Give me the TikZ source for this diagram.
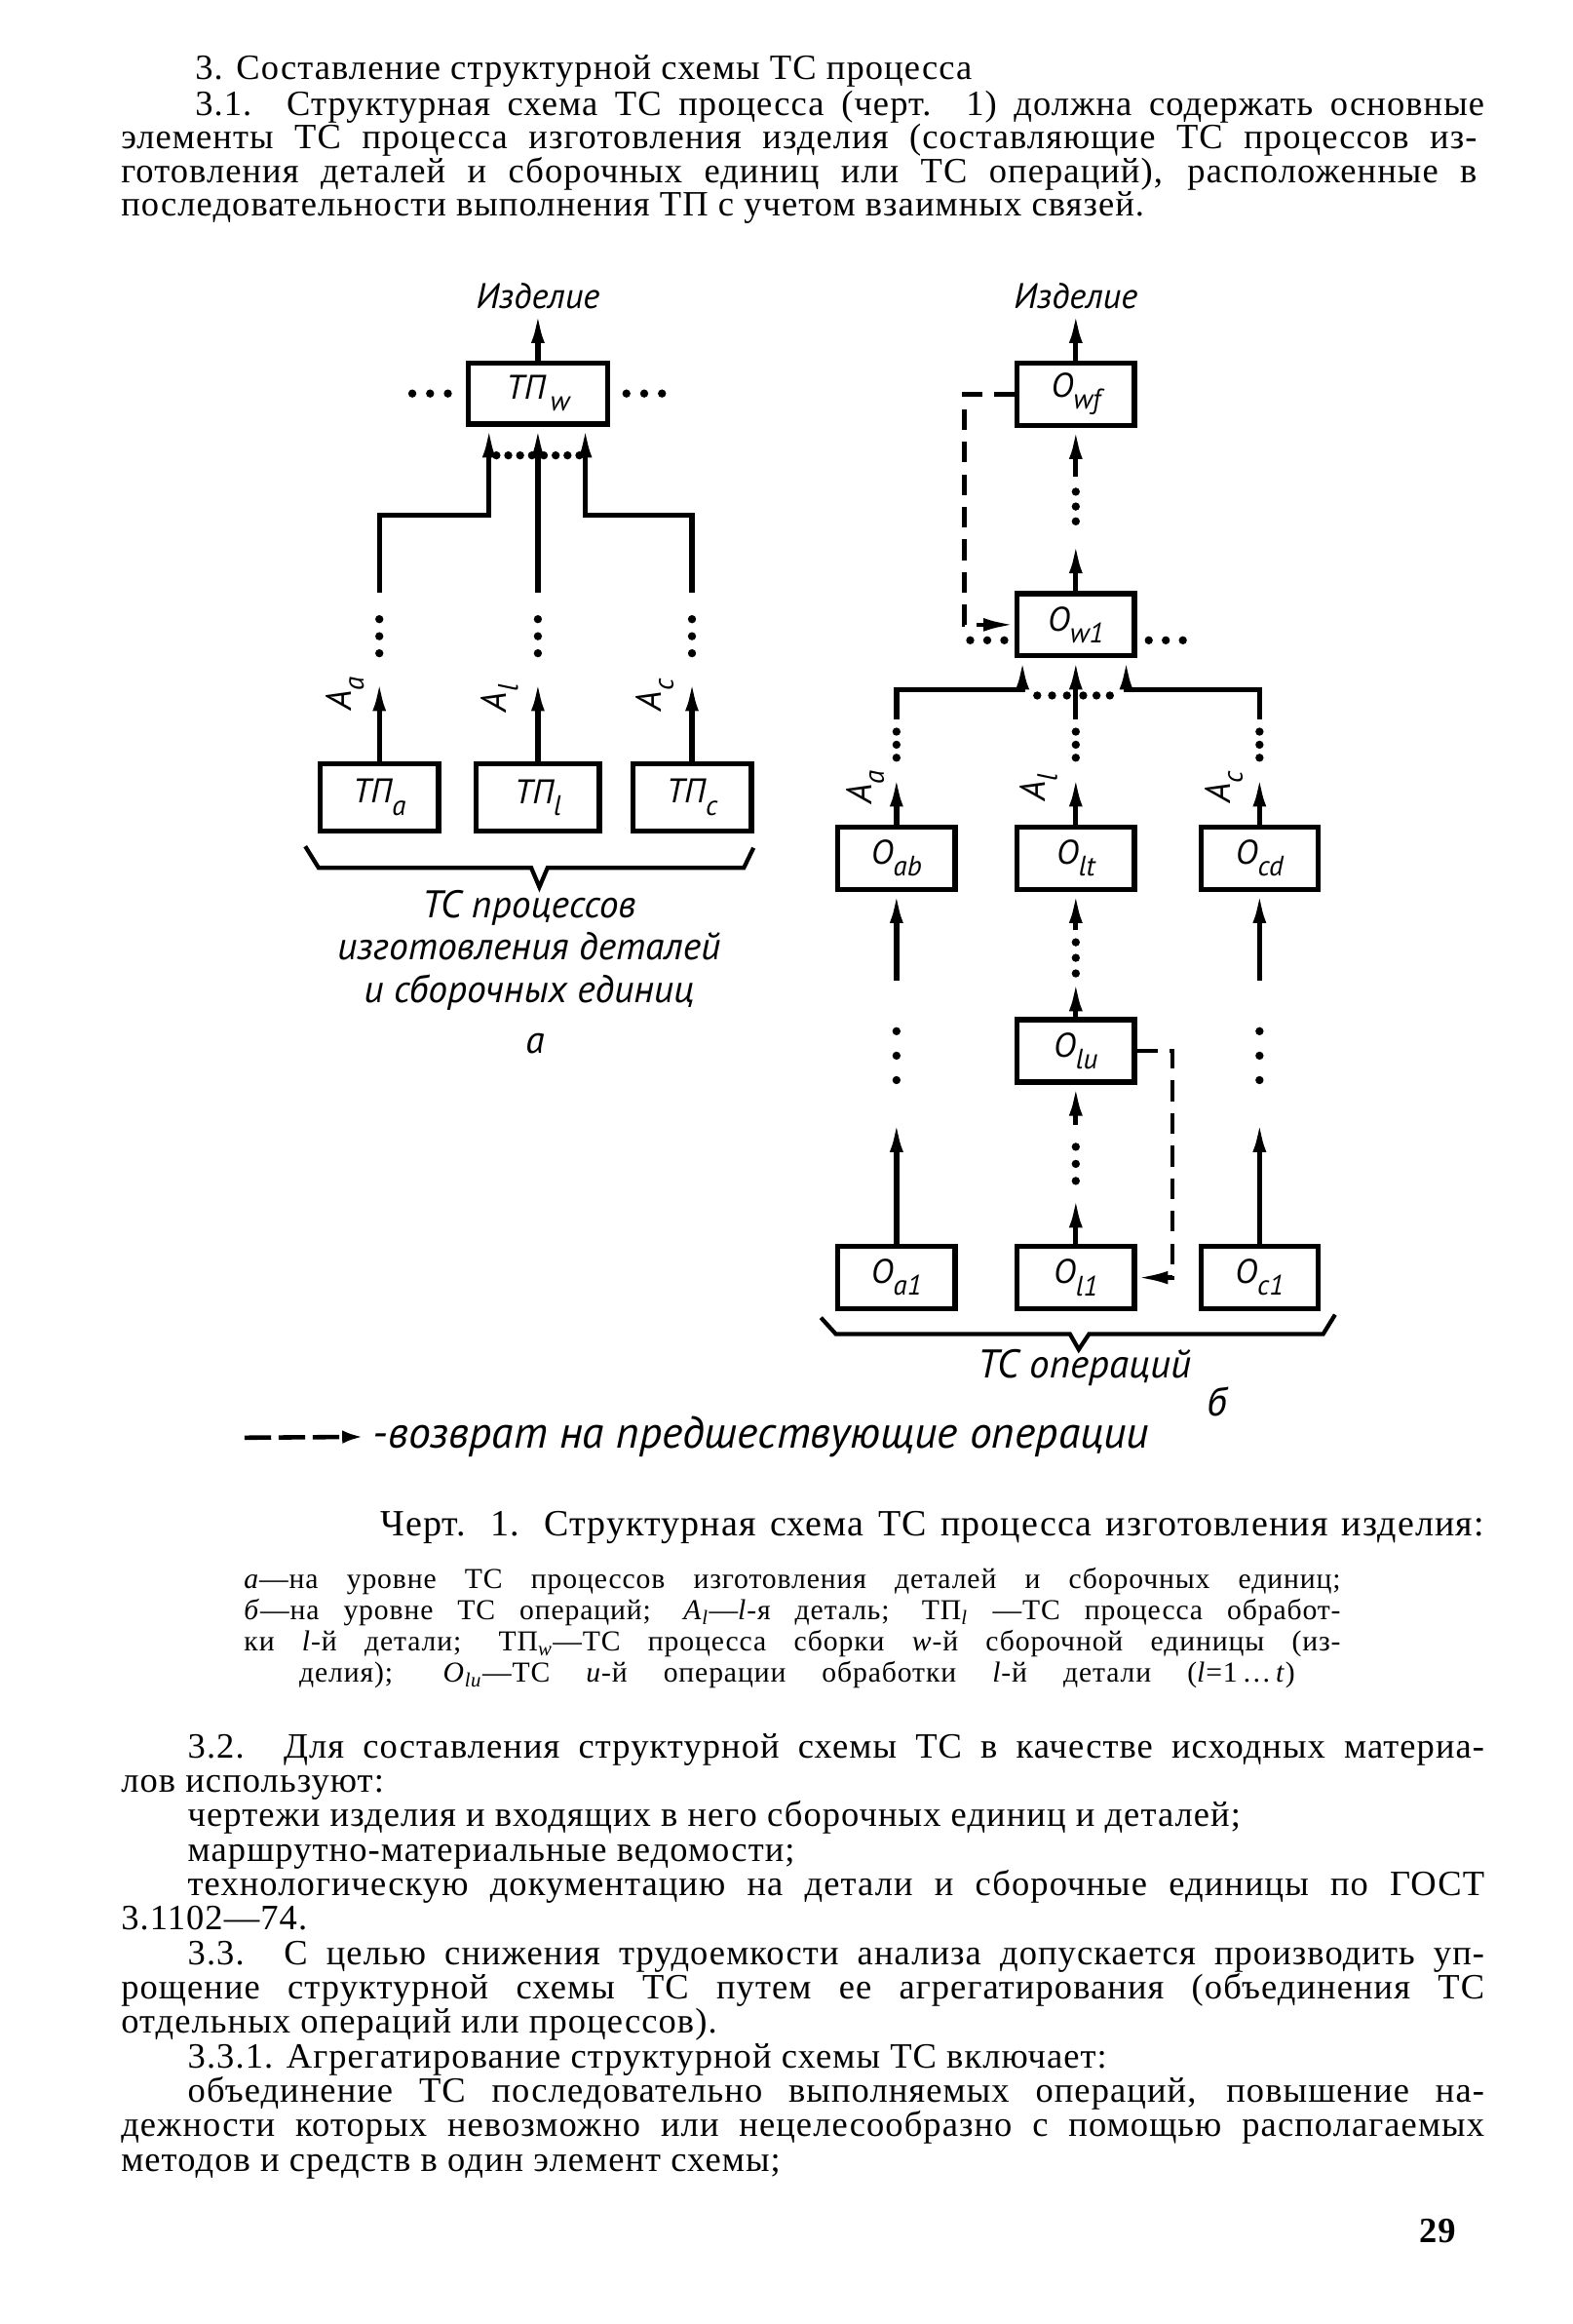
\documentclass[tikz,border=0pt]{standalone}
\usepackage{fontspec}
\setmainfont{Liberation Serif}[LetterSpace=3]
\newfontfamily\gostfont{PT Sans}
\usetikzlibrary{arrows.meta,positioning}
\newcommand\lowidx[1]{\raisebox{-8pt}{\fontsize{19}{19}\selectfont #1}}

\begin{document}
\begin{tikzpicture}[x=1pt,y=-1pt,line width=3.5pt,
  >={Latex[length=21pt,width=9pt]},
  opbox/.style={draw, minimum width=79pt, minimum height=42pt, inner sep=0pt, font=\gostfont\itshape\fontsize{23}{23}\selectfont},
  hand/.style={inner sep=0pt, align=center, font=\gostfont\itshape\fontsize{26}{28.5}\selectfont},
  alabel/.style={inner sep=0pt, rotate=90, font=\gostfont\itshape\fontsize{24}{24}\selectfont},
  dotrow/.style={line width=5.5pt, line cap=round, dash pattern=on 0pt off #1},
  backline/.style={line width=3pt, dash pattern=on 14pt off 8pt},
  bodytext/.style={anchor=north west, inner sep=0pt, align=left, font=\fontsize{24}{22.25}\selectfont}]
\useasboundingbox (0,0) rectangle (1061,1568);
% text above the drawing:
\node[bodytext] (par3) at (80,35.4) {\strut\hspace*{50pt}3. Составление структурной схемы ТС процесса\\
\hspace*{50pt}\makebox[870pt][s]{3.1. Структурная схема ТС процесса (черт. 1) должна содержать основные}\\
\makebox[915pt][s]{элементы ТС процесса изготовления изделия (составляющие ТС процессов из-}\\
\makebox[915pt][s]{готовления деталей и сборочных единиц или ТС операций), расположенные в}\\
последовательности выполнения ТП с учетом взаимных связей.};
% part a:
\node[hand, font=\gostfont\itshape\fontsize{24}{24}\selectfont] (izda) at (363,200) {Изделие};
\node[opbox, minimum width=94pt, minimum height=41pt] (tpw) at (363,265.5) {ТП\lowidx{\,w}};
\node[opbox, minimum width=80pt, minimum height=45pt] (tpa) at (256,538) {ТП\lowidx{a}};
\node[opbox, minimum width=83pt, minimum height=45pt] (tpl) at (363,538) {ТП\lowidx{l}};
\node[opbox, minimum width=80pt, minimum height=45pt] (tpc) at (467,538) {ТП\lowidx{c}};
\draw[->] (tpw.north) -- (izda.south);
\draw[dotrow=12pt] (tpw.west) ++(-12,0) -- ++(-24.5,0);
\draw[dotrow=12pt] (tpw.east) ++(11,0) -- ++(24.5,0);
\draw[->] (tpa.north) ++(0,-114) -- ++(0,-52) -| ([xshift=-33pt]tpw.south);
\draw[->] (tpl.north) ++(0,-114) -- (tpw.south);
\draw[->] (tpc.north) ++(0,-114) -- ++(0,-52) -| ([xshift=32pt]tpw.south);
\draw[dotrow=8pt] ([xshift=-28pt,yshift=-19.5pt]tpw.south) -- ++(57,0);
\draw[->] (tpa.north) -- ++(0,-55);
\draw[->] (tpl.north) -- ++(0,-55);
\draw[->] (tpc.north) -- ++(0,-55);
\draw[dotrow=11.5pt] (tpa.north) ++(0,-73) -- ++(0,-23.5);
\draw[dotrow=11.5pt] (tpl.north) ++(0,-73) -- ++(0,-23.5);
\draw[dotrow=11.5pt] (tpc.north) ++(0,-73) -- ++(0,-23.5);
\node[alabel] (aa) at (233,468) {A\lowidx{a}};
\node[alabel] (al) at (337,471) {A\lowidx{l}};
\node[alabel] (ac) at (442,469) {A\lowidx{c}};
\draw[line width=2.8pt] (206,571) -- (215,585.5) -- (358.5,585.5) -- (364,598.5) -- (369.5,585.5) -- (502,585.5) -- (508.5,572);
\node[hand] (procnote) at (357,641) {ТС процессов\\изготовления деталей\\и сборочных единиц};
\node[hand] (suba) at (361,704) {а};
% part b:
\node[hand, font=\gostfont\itshape\fontsize{24}{24}\selectfont] (izdb) at (726,200) {Изделие};
\node[opbox] (owf) at (726,266) {О\lowidx{wf}};
\node[opbox] (ow1) at (726,421.5) {О\lowidx{w1}};
\node[opbox] (oab) at (605,579) {О\lowidx{ab}};
\node[opbox] (olt) at (726,579) {О\lowidx{lt}};
\node[opbox] (ocd) at (850,579) {О\lowidx{cd}};
\node[opbox] (olu) at (726,709) {О\lowidx{lu}};
\node[opbox] (oa1) at (605,862) {О\lowidx{a1}};
\node[opbox] (ol1) at (726,862) {О\lowidx{l1}};
\node[opbox] (oc1) at (850,862) {О\lowidx{c1}};
\draw[->] (owf.north) -- (izdb.south);
\draw[->] (ow1.north) -- ++(0,-33);
\draw[dotrow=10pt] (ow1.north) ++(0,-47) -- ++(0,-20.5);
\draw[->] (owf.south) ++(0,33) -- (owf.south);
\draw[backline,->] (owf.west) -- ++(-34,0) |- (ow1.west);
\draw[dotrow=11.5pt] (ow1.west) ++(-7,10.5) -- ++(-23.5,0);
\draw[dotrow=11.5pt] (ow1.east) ++(8,10.5) -- ++(23.5,0);
% inputs of O_w1
\draw[->] (oab.north) ++(0,-71) -- ++(0,-20) -| ([xshift=-36pt]ow1.south);
\draw[->] (olt.north) ++(0,-71) -- (ow1.south);
\draw[->] (ocd.north) ++(0,-71) -- ++(0,-20) -| ([xshift=34pt]ow1.south);
\draw[dotrow=10pt] ([xshift=-26pt,yshift=-25pt]ow1.south) -- ++(20.5,0);
\draw[dotrow=9pt] ([xshift=5pt,yshift=-25pt]ow1.south) -- ++(18.5,0);
\draw[->] (oab.north) -- ++(0,-33);
\draw[->] (olt.north) -- ++(0,-33);
\draw[->] (ocd.north) -- ++(0,-33);
\draw[dotrow=8.8pt] (oab.north) ++(0,-45) -- ++(0,-18);
\draw[dotrow=8.8pt] (olt.north) ++(0,-45) -- ++(0,-18);
\draw[dotrow=8.8pt] (ocd.north) ++(0,-45) -- ++(0,-18);
\node[alabel] (ba) at (584,531) {A\lowidx{a}};
\node[alabel] (bl) at (701,531) {A\lowidx{l}};
\node[alabel] (bc) at (826,531) {A\lowidx{c}};
% lower operations
\draw[->] (oab.south) ++(0,60) -- (oab.south);
\draw[->] (ocd.south) ++(0,60) -- (ocd.south);
\draw[dotrow=16.5pt] (oab.south) ++(0,94) -- ++(0,33.5);
\draw[dotrow=16.5pt] (ocd.south) ++(0,94) -- ++(0,33.5);
\draw[->] (oa1.north) -- ++(0,-83);
\draw[->] (oc1.north) -- ++(0,-83);
\draw[->] (olt.south) ++(0,26) -- (olt.south);
\draw[dotrow=10.5pt] (olt.south) ++(0,34) -- ++(0,21.5);
\draw[->] (olu.north) -- ++(0,-25);
\draw[->] (olu.south) ++(0,27) -- (olu.south);
\draw[dotrow=11.5pt] (olu.south) ++(0,42) -- ++(0,23.5);
\draw[->] (ol1.north) -- ++(0,-32);
\draw[backline,->] (olu.east) -- ++(24,0) |- (ol1.east);
\draw[line width=2.8pt] (554,889) -- (564,900) -- (722,900) -- (728,910.5) -- (735,900) -- (893,900) -- (901,887);
\node[hand, font=\gostfont\itshape\fontsize{27}{27}\selectfont] (tcop) at (732,923) {ТС операций};
\node[hand, font=\gostfont\itshape\fontsize{27}{27}\selectfont] (subb) at (821,946) {б};
% legend:
\node[hand, anchor=base west, font=\gostfont\itshape\fontsize{30}{30}\selectfont] (backnote) at (250,977) {-возврат на предшествующие операции};
\coordinate (backstart) at (165,970);
\draw[line width=3pt, dash pattern=on 18pt off 5pt, -{Latex[length=14pt,width=9pt]}, shorten >=5pt] (backstart) -- (backnote.west);
% caption:
\node[anchor=base west, inner sep=0pt, font=\fontsize{25}{25}\selectfont] (cap) at (255,1036) {\makebox[745pt][s]{Черт. 1. Структурная схема ТС процесса изготовления изделия:}};
\node[anchor=north west, inner sep=0pt, align=left, font=\fontsize{19.5}{21}\selectfont] (keys) at (163,1055.3) {\strut\makebox[740pt][s]{\textit{а}—на уровне ТС процессов изготовления деталей и сборочных единиц;}\\
\makebox[740pt][s]{\textit{б}—на уровне ТС операций; \textit{A}\textsubscript{\textit{l}}—\textit{l}-я деталь; ТП\textsubscript{\textit{l}} —ТС процесса обработ-}\\
\makebox[740pt][s]{ки \textit{l}-й детали; ТП\textsubscript{\textit{w}}—ТС процесса сборки \textit{w}-й сборочной единицы (из-}};
\node[anchor=base, inner sep=0pt, font=\fontsize{19.5}{21}\selectfont] (keyend) at (538,1135) {\makebox[672pt][s]{делия); \textit{О}\textsubscript{\textit{lu}}—ТС \textit{u}-й операции обработки \textit{l}-й детали (\textit{l}=1\,\dots\,\textit{t})}};
% text below the drawing:
\node[bodytext, font=\fontsize{24}{23.25}\selectfont] (par32) at (80,1167.7) {\strut\hspace*{45pt}\makebox[875pt][s]{3.2. Для составления структурной схемы ТС в качестве исходных материа-}\\
лов используют:\\
\hspace*{45pt}чертежи изделия и входящих в него сборочных единиц и деталей;\\
\hspace*{45pt}маршрутно-материальные ведомости;\\
\hspace*{45pt}\makebox[875pt][s]{технологическую документацию на детали и сборочные единицы по ГОСТ}\\
3.1102—74.\\
\hspace*{45pt}\makebox[875pt][s]{3.3. С целью снижения трудоемкости анализа допускается производить уп-}\\
\makebox[920pt][s]{рощение структурной схемы ТС путем ее агрегатирования (объединения ТС}\\
отдельных операций или процессов).\\
\hspace*{45pt}3.3.1. Агрегатирование структурной схемы ТС включает:\\
\hspace*{45pt}\makebox[875pt][s]{объединение ТС последовательно выполняемых операций, повышение на-}\\
\makebox[920pt][s]{дежности которых невозможно или нецелесообразно с помощью располагаемых}\\
методов и средств в один элемент схемы;};
\node[inner sep=0pt, font=\bfseries\fontsize{24}{24}\selectfont] (pnum) at (970,1505) {29};
\end{tikzpicture}
\end{document}
